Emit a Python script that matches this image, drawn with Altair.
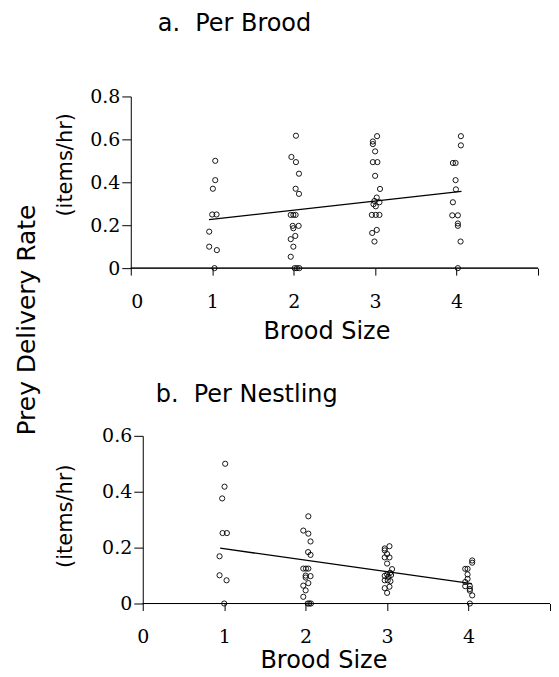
import altair as alt
import pandas as pd

# ---- data ----
broods = [1, 2, 3, 4]

# a. Per Brood  (values, small horizontal jitter as drawn)
pb_vals = {
    1: [0.50, 0.41, 0.37, 0.25, 0.25, 0.17, 0.10, 0.084, 0.0],
    2: [0.617, 0.518, 0.494, 0.44, 0.37, 0.346, 0.248, 0.248, 0.248, 0.197, 0.186,
        0.197, 0.15, 0.135, 0.10, 0.053, 0.0, 0.0, 0.0],
    3: [0.615, 0.59, 0.578, 0.544, 0.494, 0.494, 0.43, 0.369, 0.329, 0.313, 0.307,
        0.298, 0.288, 0.248, 0.248, 0.248, 0.178, 0.164, 0.124],
    4: [0.615, 0.572, 0.49, 0.49, 0.41, 0.367, 0.307, 0.246, 0.246, 0.208, 0.197,
        0.124, 0.0],
}
pb_dx = {
    1: [0.037, 0.037, 0.008, 0.0, 0.053, -0.037, -0.037, 0.057, 0.028],
    2: [0.028, -0.028, 0.028, 0.065, 0.024, 0.065, -0.036, -0.004, 0.024, -0.012, -0.004,
        0.061, 0.02, -0.036, -0.004, -0.036, 0.012, 0.04, 0.069],
    3: [0.024, -0.028, -0.028, 0.0, -0.028, 0.028, 0.0, 0.06, 0.02, -0.008, 0.053,
        -0.02, 0.008, -0.04, 0.008, 0.053, 0.02, -0.036, -0.008],
    4: [0.053, 0.053, -0.045, -0.012, -0.012, -0.008, -0.045, -0.053, 0.016, 0.016, 0.016,
        0.049, 0.016],
}

# b. Per Nestling
pn_vals = {
    1: [0.50, 0.418, 0.376, 0.252, 0.252, 0.169, 0.101, 0.083, 0.0],
    2: [0.312, 0.261, 0.25, 0.222, 0.184, 0.174, 0.125, 0.125, 0.125, 0.10, 0.093,
        0.098, 0.073, 0.064, 0.047, 0.024, 0.0, 0.0, 0.0],
    3: [0.205, 0.197, 0.19, 0.177, 0.165, 0.165, 0.143, 0.123, 0.11, 0.104, 0.102,
        0.099, 0.096, 0.083, 0.083, 0.08, 0.06, 0.055, 0.038],
    4: [0.154, 0.146, 0.124, 0.124, 0.104, 0.088, 0.077, 0.062, 0.062, 0.052, 0.046,
        0.029, 0.0],
}
pn_dx = {
    1: [0.012, 0.004, -0.025, -0.02, 0.033, -0.057, -0.057, 0.029, 0.0],
    2: [0.033, -0.029, 0.033, 0.06, 0.03, 0.06, -0.029, 0.004, 0.033, 0.0, 0.0,
        0.06, 0.033, -0.029, 0.0, -0.029, 0.025, 0.045, 0.065],
    3: [0.029, -0.029, -0.029, 0.0, -0.029, 0.029, 0.0, 0.061, 0.037, 0.0, 0.049,
        -0.029, 0.016, -0.029, 0.008, 0.041, 0.029, -0.029, 0.0],
    4: [0.045, 0.045, -0.041, -0.012, -0.012, -0.012, -0.041, -0.041, 0.016, 0.016, 0.016,
        0.045, 0.016],
}

# fitted lines (end points as drawn)
pb_trend_x = [0.96, 4.06]
pb_trend_y = [0.226, 0.358]
pn_trend_x = [0.95, 4.04]
pn_trend_y = [0.198, 0.071]

x_ticks = [0, 1, 2, 3, 4, 5]
pb_yticks = [0, 0.2, 0.4, 0.6, 0.8]
pn_yticks = [0, 0.2, 0.4, 0.6]

PX_PER_UNIT = 408 / 5.0


def points_df(vals, dx):
    rows = []
    for b in broods:
        for v, d in zip(vals[b], dx[b]):
            rows.append({"x": b + d, "y": v, "brood": b})
    return pd.DataFrame(rows)


def panel(vals, dx, tx, ty, ymax, yticks, h, title, title_dx, title_offset,
          ytitle_pad, ytitle_y, shift, xlabel_pad, xtitle_pad, xtitle_x):
    df = points_df(vals, dx)
    trend = pd.DataFrame({"x": tx, "y": ty})
    xmin = -shift / PX_PER_UNIT
    xenc = alt.X(
        "x:Q",
        scale=alt.Scale(domain=[xmin, 5], nice=False, zero=False),
        axis=alt.Axis(
            values=x_ticks,
            format="d",
            labelExpr="datum.value < 5 ? datum.label : ''",
            title="Brood Size",
            tickSize=7,
            labelPadding=xlabel_pad,
            titlePadding=xtitle_pad,
            titleX=xtitle_x,
            domain=False,
        ),
    )
    yenc = alt.Y(
        "y:Q",
        scale=alt.Scale(domain=[0, ymax], nice=False),
        axis=alt.Axis(
            values=yticks,
            format=".1~f",
            title="(items/hr)",
            tickSize=9,
            labelPadding=2,
            titlePadding=ytitle_pad,
            titleFontSize=21,
            titleY=ytitle_y,
            offset=-shift,
        ),
    )
    pts = alt.Chart(df).mark_point(
        shape="circle", filled=False, color="black", size=27, strokeWidth=0.9, opacity=1
    ).encode(x=xenc, y=yenc)
    line = alt.Chart(trend).mark_line(color="black", strokeWidth=1.3).encode(
        x="x:Q", y="y:Q"
    )
    baseline = alt.Chart(trend).mark_rule(color="black", strokeWidth=1).encode(
        x=alt.datum(0), x2=alt.datum(5), y=alt.datum(0)
    )
    return alt.layer(pts, line, baseline).properties(
        width=408 + shift,
        height=h,
        title=alt.TitleParams(
            title,
            anchor="start",
            frame="group",
            dx=title_dx,
            offset=title_offset,
            fontSize=24,
            font="DejaVu Sans",
            fontWeight="normal",
            color="black",
        ),
    )


top = panel(pb_vals, pb_dx, pb_trend_x, pb_trend_y, 0.8, pb_yticks, 172,
            "a.\u00a0 Per Brood", 27, 52, 14, 68, 0, 17, 8, 196)
bottom = panel(pn_vals, pn_dx, pn_trend_x, pn_trend_y, 0.6, pn_yticks, 168,
               "b.\u00a0 Per Nestling", 25, 20, 26, 80, 12, 17, 2, 193)

chart = (
    alt.concat(top, bottom, columns=1, spacing=40)
    .properties(
        title=alt.TitleParams(
            "Prey Delivery Rate",
            orient="left",
            anchor="middle",
            fontSize=25,
            font="DejaVu Sans",
            fontWeight="normal",
            color="black",
            offset=15,
            dx=22,
        ),
        padding={"left": 6, "top": 3, "right": 0, "bottom": 0},
    )
    .configure_view(stroke=None)
    .configure_axis(
        grid=False,
        domainColor="black",
        tickColor="black",
        domainWidth=1,
        tickWidth=1,
        labelFont="DejaVu Serif",
        labelFontSize=19,
        labelColor="black",
        titleFont="DejaVu Sans",
        titleFontSize=24,
        titleFontWeight="normal",
        titleColor="black",
    )
)

chart.save("out.html", embed_options={"renderer": "svg", "actions": False})
